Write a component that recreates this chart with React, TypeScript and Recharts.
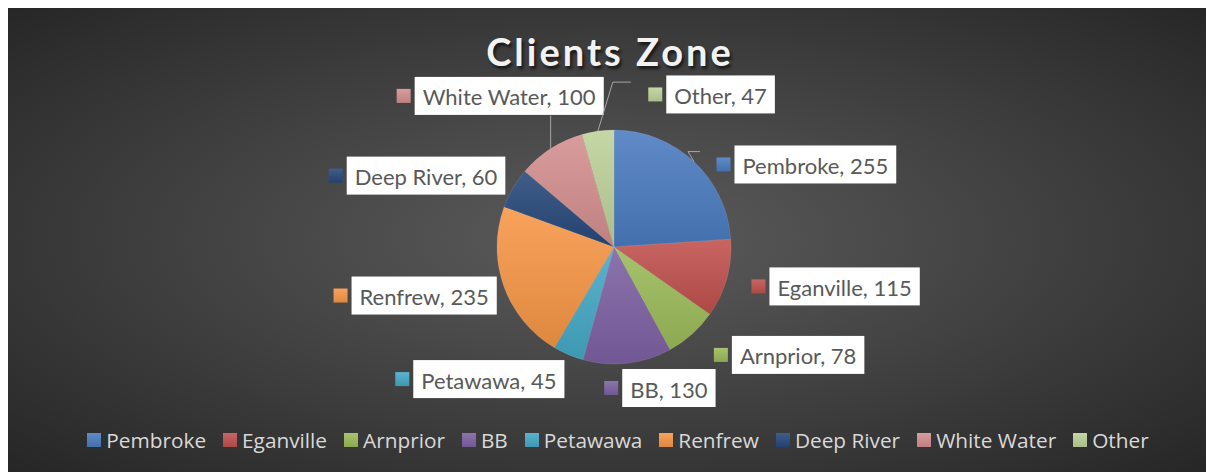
import { PieChart, Pie, Cell, Legend } from "recharts";

const NAMES = ["Pembroke", "Eganville", "Arnprior", "BB", "Petawawa", "Renfrew", "Deep River", "White Water", "Other"];
const VALUES = [255, 115, 78, 130, 45, 235, 60, 100, 47];
const COLORS = ["#4A7BC0", "#C0504D", "#9BBB59", "#7E61A3", "#45A9C6", "#F79646", "#27487A", "#D48F8E", "#BDD299"];

const data = NAMES.map((name, i) => ({ name, value: VALUES[i] }));

const W = 1204;
const H = 468;
const CX = 606;
const CY = 243;
const R = 117;

// excel "best fit" label placement isn't regular, so each label gets a small nudge
const LABEL_NUDGE = [
  { dx: 0, dy: 27, side: "start" },
  { dx: -7, dy: -1, side: "start" },
  { dx: 0, dy: -4, side: "start" },
  { dx: -27, dy: -8, side: "start" },
  { dx: 9, dy: -6, side: "end" },
  { dx: 24, dy: -2, side: "end" },
  { dx: 21, dy: 4, side: "end" },
  { dx: 71, dy: -25, side: "end" },
  { dx: 55, dy: -4, side: "start" },
];

// leader line bends, relative to the slice's outer edge
const LEADERS: (number[][] | null)[] = [
  [[-6, -10], [6, -10]],
  null,
  null,
  null,
  null,
  null,
  null,
  [[0, -33]],
  [[15, -49], [33, -49]],
];

const LABEL_FONT_SIZE = 22;
const LABEL_FONT = "Lato";

let ctx: CanvasRenderingContext2D | null = null;
const measure = (s: string) => {
  if (!ctx) ctx = document.createElement("canvas").getContext("2d");
  if (!ctx) return s.length * LABEL_FONT_SIZE * 0.5;
  ctx.font = `${LABEL_FONT_SIZE}px ${LABEL_FONT}`;
  return ctx.measureText(s).width;
};

const shade = (hex: string, amt: number) => {
  const n = parseInt(hex.slice(1), 16);
  const f = (c: number) => {
    const v = amt >= 0 ? c + (255 - c) * amt : c * (1 + amt);
    return Math.max(0, Math.min(255, Math.round(v)));
  };
  const r = f((n >> 16) & 255), g = f((n >> 8) & 255), b = f(n & 255);
  return `rgb(${r},${g},${b})`;
};

const renderLabel = ({ cx, cy, midAngle, outerRadius, index }: any) => {
  const RADIAN = Math.PI / 180;
  const cos = Math.cos(-midAngle * RADIAN);
  const sin = Math.sin(-midAngle * RADIAN);
  const nudge = LABEL_NUDGE[index];
  const ax = cx + (outerRadius + 33) * cos + nudge.dx;
  const ay = cy + (outerRadius + 33) * sin + nudge.dy;
  const text = `${NAMES[index]}, ${VALUES[index]}`;
  const boxW = measure(text) + 16;
  const boxH = 38;
  const total = 18 + boxW;
  const x0 = nudge.side === "start" ? ax : ax - total;
  const ox = cx + outerRadius * cos;
  const oy = cy + outerRadius * sin;
  const leader = LEADERS[index];

  return (
    <g>
      {leader && (
        <polyline
          points={[[0, 0], ...leader].map(([dx, dy]) => `${ox + dx},${oy + dy}`).join(" ")}
          fill="none"
          stroke="#A6A6A6"
          strokeWidth={1}
        />
      )}
      <rect x={x0} y={ay - 7} width={14} height={14} fill={`url(#grad-${index})`} />
      <rect x={x0 + 18} y={ay - boxH / 2} width={boxW} height={boxH} fill="#FFFFFF" />
      <text
        x={x0 + 18 + 8}
        y={ay + 1}
        fill="#595959"
        fontSize={LABEL_FONT_SIZE}
        fontFamily={LABEL_FONT}
        dominantBaseline="central"
      >
        {text}
      </text>
    </g>
  );
};

const renderLegend = () => (
  <div
    style={{
      display: "flex",
      justifyContent: "center",
      alignItems: "center",
      paddingLeft: 16,
      fontFamily: "'Open Sans', sans-serif",
      fontSize: 20.8,
      color: "#D9D9D9",
      lineHeight: "28px",
    }}
  >
    {NAMES.map((name, i) => (
      <div key={name} style={{ display: "flex", alignItems: "center", marginRight: i < NAMES.length - 1 ? 17 : 0 }}>
        <span
          style={{
            display: "inline-block",
            width: 14,
            height: 14,
            marginRight: 5,
            background: `linear-gradient(${shade(COLORS[i], 0.12)}, ${shade(COLORS[i], -0.1)})`,
          }}
        />
        <span>{name}</span>
      </div>
    ))}
  </div>
);

export default function App() {
  return (
    <div
      style={{
        position: "relative",
        width: W,
        height: H,
        top: -4,
        background: "radial-gradient(ellipse at 50% 50%, #5c5c5c 0%, #262626 100%)",
        overflow: "hidden",
      }}
    >
      <div
        style={{
          position: "absolute",
          left: 0,
          top: 25,
          width: W,
          textAlign: "center",
          fontFamily: "Lato, sans-serif",
          fontWeight: 700,
          fontSize: 38,
          letterSpacing: 3,
          lineHeight: "44px",
          color: "#F2F2F2",
          textShadow: "2px 3px 3px rgba(0,0,0,0.6)",
        }}
      >
        Clients Zone
      </div>
      <PieChart
        width={W}
        height={H}
        margin={{ top: 0, right: 0, bottom: 0, left: 0 }}
        style={{ position: "absolute", left: 0, top: 0 }}
      >
        <defs>
          {COLORS.map((c, i) => (
            <linearGradient key={i} id={`grad-${i}`} x1="0" y1="0" x2="0" y2="1">
              <stop offset="0%" stopColor={shade(c, 0.12)} />
              <stop offset="100%" stopColor={shade(c, -0.1)} />
            </linearGradient>
          ))}
        </defs>
        <Pie
          data={data}
          dataKey="value"
          nameKey="name"
          cx={CX}
          cy={CY}
          outerRadius={R}
          startAngle={90}
          endAngle={-270}
          stroke="rgba(255,255,255,0.2)"
          strokeWidth={0.5}
          label={renderLabel}
          labelLine={false}
          isAnimationActive={false}
        >
          {data.map((_, index) => (
            <Cell key={`cell-${index}`} fill={`url(#grad-${index})`} />
          ))}
        </Pie>
        <Legend
          content={renderLegend}
          wrapperStyle={{ position: "absolute", top: 422, left: 0, width: W, height: 28 }}
        />
      </PieChart>
    </div>
  );
}
